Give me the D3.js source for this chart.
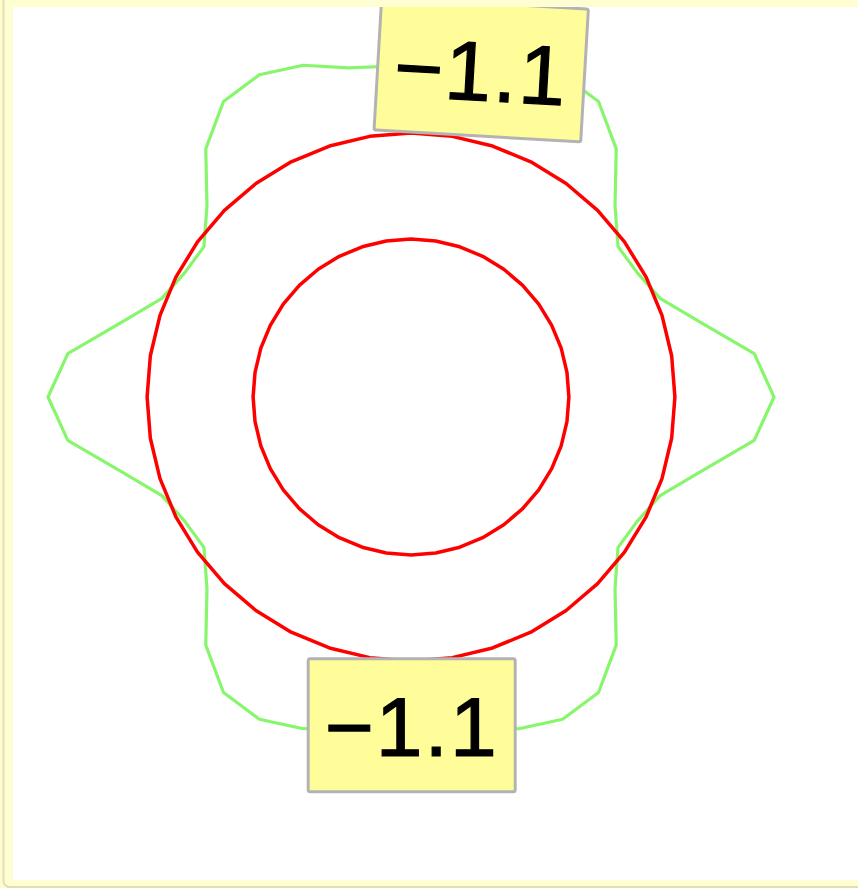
<!DOCTYPE html>
<html><head><meta charset="utf-8">
<script src="https://cdn.jsdelivr.net/npm/d3@7"></script>
<style>html,body{margin:0;padding:0;background:#fffdd0;overflow:hidden}</style>
</head><body><svg id="c" width="858" height="888"></svg>
<script>
// ---- data ----
// green curve: 50 samples, polar angle (deg, counter-clockwise from +x) and radius value
const greenStep = 7.2;
const greenValues = [
  100, 95.3, 82.5, 73.8, 71.1, 70.5, 77.1, 88.7, 96.4, 98.1, 96.1, 92.3, 91.3,
  91.3, 92.3, 96.1, 98.1, 96.4, 88.7, 77.1, 70.5, 71.1, 73.8, 82.5, 95.3,
  100, 95.3, 82.5, 73.8, 71.1, 70.5, 77.1, 88.7, 96.4, 98.1, 96.1, 92.3, 91.3,
  91.3, 92.3, 96.1, 98.1, 96.4, 88.7, 77.1, 70.5, 71.1, 73.8, 82.5, 95.3
];
// red rings: constant radius, number of samples
const ringValues = [72.7, 43.5];
const ringSamples = [40, 40];
// labels
const labelTexts = ["\u22121.1", "\u22121.1"];

// ---- layout ----
const W = 858, H = 888;
const cx = 411, cy = 397;
const svg = d3.select("#c");
const r = d3.scaleLinear().domain([0, 100]).range([0, 363]);

// frame
svg.append("rect").attr("x", 0).attr("y", 0).attr("width", W).attr("height", H).attr("fill", "#fffdd0");
svg.append("rect").attr("x", 3.5).attr("y", -20).attr("width", W + 20).attr("height", 907)
  .attr("rx", 6).attr("fill", "#fffdd2").attr("stroke", "#e2dfb2").attr("stroke-width", 2);
svg.append("rect").attr("x", 13).attr("y", 7).attr("width", W).attr("height", 873).attr("fill", "#fff");

svg.append("clipPath").attr("id", "pc").append("rect")
  .attr("x", 13).attr("y", 7).attr("width", W).attr("height", 873);
const g = svg.append("g").attr("clip-path", "url(#pc)");
const plot = g.append("g").attr("transform", `translate(${cx},${cy})`);

const radial = d3.lineRadial()
  .angle(d => Math.PI / 2 - d[0] * Math.PI / 180)
  .radius(d => r(d[1]))
  .curve(d3.curveLinearClosed);

plot.append("path")
  .datum(greenValues.map((v, i) => [i * greenStep, v]))
  .attr("d", radial).attr("fill", "none")
  .attr("stroke", "#88f66c").attr("stroke-width", 3.2).attr("stroke-linejoin", "round");

ringValues.forEach((v, k) => {
  const n = ringSamples[k];
  const pts = d3.range(n).map(i => [i * 360 / n, v]);
  plot.append("path").datum(pts).attr("d", radial).attr("fill", "none")
    .attr("stroke", "#ff0000").attr("stroke-width", 3.5).attr("stroke-linejoin", "round");
});

// labels
const labelPos = [
  {x: 481.2, y: 69.5, rot: 3.3},
  {x: 411.7, y: 725.3, rot: 0}
];
labelTexts.forEach((t, i) => {
  const p = labelPos[i];
  const lg = g.append("g").attr("transform", `translate(${p.x},${p.y}) rotate(${p.rot})`);
  lg.append("rect").attr("x", -103.5).attr("y", -66.5).attr("width", 207).attr("height", 133)
    .attr("rx", 2).attr("fill", "#fffd99").attr("stroke", "#b3b3b3").attr("stroke-width", 3);
  lg.append("text").attr("x", 0).attr("y", 31).attr("text-anchor", "middle")
    .attr("font-family", "Liberation Sans, Arial, sans-serif").attr("font-size", 84)
    .attr("letter-spacing", 2)
    .attr("fill", "#000").attr("stroke", "#000").attr("stroke-width", 1.2).text(t);
});
</script></body></html>
